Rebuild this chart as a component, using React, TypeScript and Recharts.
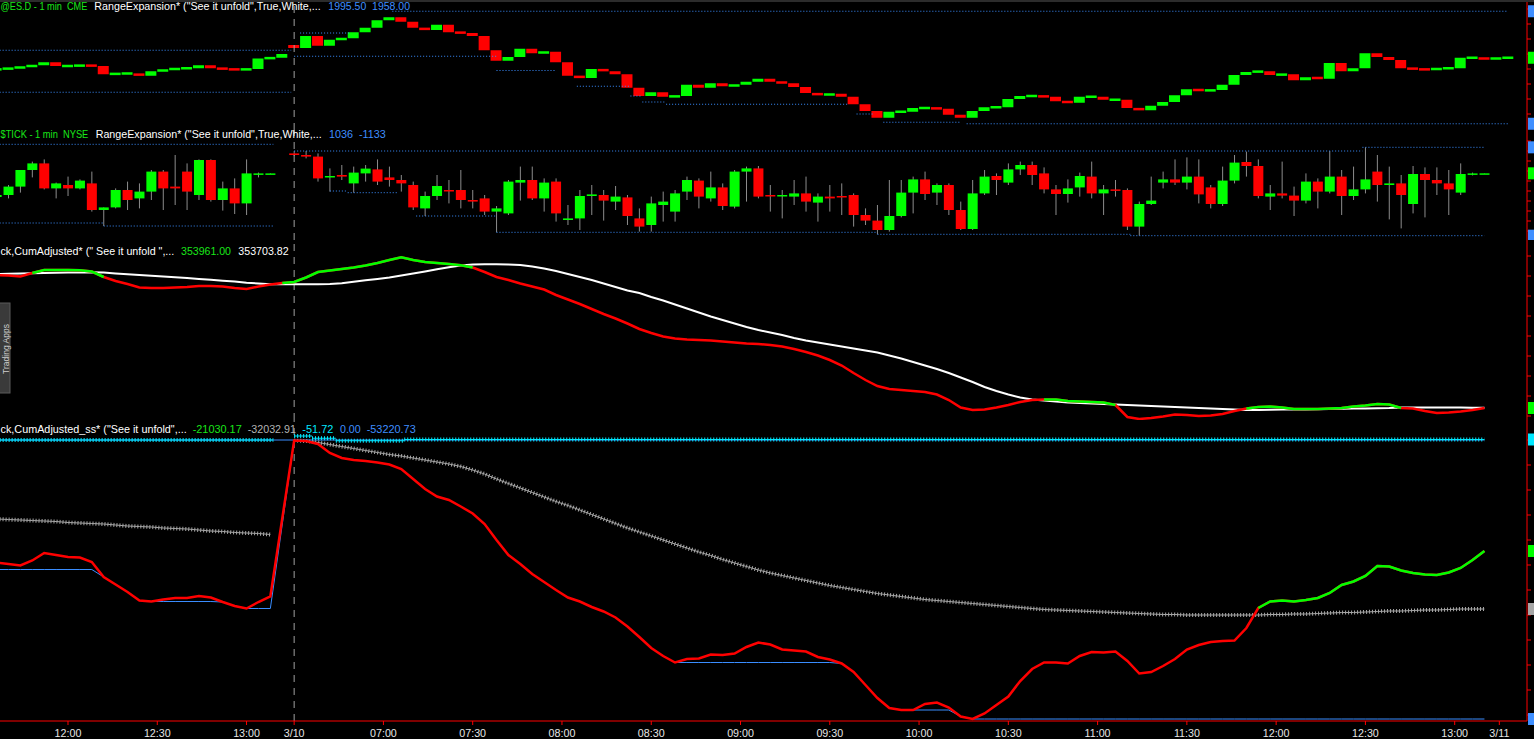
import React from 'react';
import { ComposedChart, Bar, Line, XAxis, YAxis, ReferenceLine, ReferenceDot } from 'recharts';

const FONT = '"Liberation Sans", Arial, Helvetica, sans-serif';
const GREEN = '#00ff00';
const RED = '#ff0000';
const BLUE = '#3a8dff';
const CYAN = '#00e8ff';
const GREY = '#a6a6a6';
const WICK = '#8c8c8c';
const AXIS_RED = '#ff0000';
const TXT_GREEN = '#19e619';
const TXT_BLUE = '#3f8fff';

const WIDTH = 1534;
const AXIS_W = 7;
const X_DOMAIN: [number, number] = [-22.85, 490.3];
const SESSION_BREAK = 76;

// ---- bar index (1-minute units from 12:00 of 3/9), one bar per 4 minutes ----
const session1Index = [-24, -20, -16, -12, -8, -4, 0, 4, 8, 12, 16, 20, 24, 28, 32, 36, 40, 44, 48, 52, 56, 60, 64, 68, 72];
const session2Index = [76, 80, 84, 88, 92, 96, 100, 104, 108, 112, 116, 120, 124, 128, 132, 136, 140, 144, 148, 152,
  156, 160, 164, 168, 172, 176, 180, 184, 188, 192, 196, 200, 204, 208, 212, 216, 220, 224, 228, 232,
  236, 240, 244, 248, 252, 256, 260, 264, 268, 272, 276, 280, 284, 288, 292, 296, 300, 304, 308, 312,
  316, 320, 324, 328, 332, 336, 340, 344, 348, 352, 356, 360, 364, 368, 372, 376, 380, 384, 388, 392,
  396, 400, 404, 408, 412, 416, 420, 424, 428, 432, 436, 440, 444, 448, 452, 456, 460, 464, 468, 472, 476, 480, 484];

// ---- x axis ----
const tickValues = [0, 30, 60, 76, 106, 136, 166, 196, 226, 256, 286, 316, 346, 376, 406, 436, 466, 481];
const tickLabels = ['12:00', '12:30', '13:00', '3/10', '07:00', '07:30', '08:00', '08:30', '09:00', '09:30', '10:00', '10:30', '11:00', '11:30', '12:00', '12:30', '13:00', '3/11'];

// ---- @ES.D closes ----
const esSessionOpen = [1974.75, 1983.0];
const esCloseDay1 = [1975.0, 1975.25, 1975.75, 1976.25, 1977.25, 1976.0, 1976.0, 1976.25, 1976.0, 1973.25, 1973.5, 1973.5, 1972.75,
  1974.25, 1974.75, 1975.25, 1975.25, 1976.25, 1975.25, 1975.0, 1974.75, 1975.0, 1978.5, 1978.75, 1980.0];
const esCloseDay2 = [
  1982.0, 1986.0, 1982.75, 1984.75, 1985.25, 1987.25, 1988.75, 1991.25, 1992.25, 1990.75,
  1988.75, 1988.0, 1989.75, 1987.25, 1987.0, 1986.0, 1981.25, 1977.75, 1979.0, 1981.75,
  1980.25, 1980.75, 1977.25, 1972.75, 1972.0, 1975.0, 1974.25, 1973.25, 1968.75, 1966.0,
  1967.25, 1965.75, 1966.0, 1969.75, 1968.75, 1970.25, 1969.25, 1969.75, 1970.75, 1971.75,
  1970.75, 1970.25, 1969.0, 1967.0, 1966.25, 1966.75, 1965.75, 1963.25, 1961.0, 1958.75,
  1960.75, 1960.75, 1962.0, 1962.0, 1961.75, 1959.75, 1958.75, 1961.0, 1962.25, 1962.25,
  1965.0, 1966.0, 1966.0, 1965.75, 1964.25, 1963.75, 1965.75, 1965.75, 1964.75, 1964.75,
  1962.0, 1961.25, 1962.75, 1964.0, 1966.25, 1968.25, 1967.75, 1968.0, 1969.75, 1973.0,
  1974.0, 1974.25, 1973.0, 1973.25, 1971.25, 1972.25, 1971.75, 1977.0, 1974.25, 1975.25,
  1980.25, 1979.0, 1978.0, 1975.25, 1975.0, 1974.75, 1975.25, 1975.25, 1978.75, 1978.75, 1978.25, 1978.75, 1978.75];
// [fromIndex, toIndex, level]
const esRangeHigh = [[-26, 75, 1981.25], [78, 95, 1987.0], [109, 484, 1994.25]];
const esRangeLow = [[-26, 75, 1967.25], [76, 144, 1979.25], [144, 164, 1974.5], [171, 189, 1969.25], [189, 193, 1966.0],
  [193, 201, 1964.0], [201, 262, 1963.25], [265, 271, 1960.0], [274, 300, 1957.25], [302, 484, 1956.75]];
const esAxisTicks = [1960, 1965, 1970, 1975, 1980, 1985, 1990, 1995];

// ---- $TICK bars [open, high, low, close] ----
const tickBarsDay1 = [
  [-150, 100, -200, -100],
  [-100, 150, -185, 110], [110, 525, -40, 525], [525, 735, 340, 690], [690, 790, 40, 65], [65, 210, -185, 190],
  [150, 360, -125, 65], [65, 290, 40, 260], [190, 485, -515, -475], [-475, -410, -875, -410], [-410, 65, -435, 25],
  [25, 235, -475, -225], [-185, 190, -435, -15], [-15, 525, -225, 485], [485, 525, -475, 65], [110, 900, -350, 65],
  [485, 690, -475, -15], [-100, 790, -225, 775], [775, 790, -265, -225], [-225, 235, -490, 65], [65, 315, -575, -310],
  [-310, 790, -600, 440], [440, 460, 340, 440], [440, 440, 425, 440]];
const tickBarsDay2 = [
  [940, 1000, 875, 900], [900, 1000, 815, 860], [860, 940, 235, 315], [360, 565, -15, 375], [400, 650, 275, 360],
  [190, 610, -42, 460], [440, 650, 235, 560], [540, 790, 150, 235], [340, 610, 110, 275], [275, 400, -15, 190],
  [150, 235, -475, -410], [-435, -15, -625, -125], [-125, 400, -225, 125], [25, 275, -310, 10], [25, 525, -435, -225],
  [-225, 25, -435, -265], [-185, -100, -600, -515], [-515, -375, -1033, -435], [-560, 275, -600, 235], [210, 610, -240, 275],
  [275, 610, -225, -185], [-185, 315, -515, 210], [235, 315, -765, -560], [-725, -350, -850, -685], [-685, 25, -975, -125],
  [-125, 150, -600, -85], [-100, 25, -740, -240], [-265, 125, -475, -140], [-160, -100, -850, -625], [-685, -435, -1015, -890],
  [-850, -140, -1015, -310], [-350, -15, -765, -265], [-515, 25, -765, -60], [-15, 360, -225, 275], [260, 315, -435, -140],
  [-185, 485, -265, 90], [90, 190, -475, -375], [-390, 525, -435, 485], [485, 610, -265, 565], [565, 625, -185, -140],
  [-100, 150, -515, -125], [-125, 25, -685, -100], [-140, 275, -350, -60], [-60, 360, -515, -265], [-290, -60, -765, -140],
  [-140, 150, -515, -185], [-125, 190, -600, -140], [-100, -60, -890, -600], [-600, -435, -850, -740], [-740, -350, -1083, -975],
  [-975, 275, -1015, -625], [-625, 275, -660, -40], [-40, 360, -560, 290], [290, 485, -225, -75], [-40, 190, -350, 150],
  [150, 190, -600, -475], [-475, -265, -975, -950], [-950, 275, -975, -60], [-60, 525, -100, 360], [375, 440, -100, 275],
  [210, 690, 150, 540], [540, 735, 400, 650], [650, 735, 150, 400], [440, 590, -60, 40], [40, 150, -600, -75],
  [-75, 290, -290, 65], [90, 460, -140, 375], [360, 735, -185, -60], [-60, 150, -600, 40], [40, 275, -140, 10],
  [25, 65, -975, -890], [-890, -265, -1117, -325], [-325, 360, -350, -240], [210, 485, 65, 290], [290, 790, 150, 210],
  [210, 840, 40, 360], [360, 790, -310, -85], [90, 150, -435, -325], [-325, 610, -375, 260], [260, 900, 190, 710],
  [725, 985, 360, 625], [625, 790, -185, -125], [-140, 150, -475, -60], [-60, 735, -185, -115], [-115, 110, -625, -240],
  [-240, 440, -310, 235], [235, 315, -435, -15], [-15, 1000, -60, 360], [360, 525, -600, -125], [-125, 610, -225, 40],
  [40, 1092, -60, 290], [485, 900, -265, 150], [150, 610, -710, 190], [190, 400, -935, -100], [-325, 625, -560, 425],
  [425, 590, -660, 275], [275, 590, -100, 190], [190, 525, -600, 40], [-40, 690, -100, 425], [425, 460, 390, 440],
  [440, 445, 435, 442]];
const tickRangeHigh = [[-26, 69, 1167], [76, 435, 1000], [435, 476, 1092]];
const tickRangeLow = [[-26, 12, -800], [12, 69, -875], [88, 94, 0], [94, 111, -42], [117, 144, -625],
  [144, 272, -1033], [272, 357, -1083], [357, 476, -1117]];
const tickAxisTicks = [-1000, -750, -500, -250, 0, 250, 500, 750, 1000, 1250];

// ---- CumAdjusted (thousands) and its average ----
const cumDay1 = [420.5, 420.25, 419.75, 421.5, 423, 423, 423, 422.85, 422.25, 419.5, 417.5, 416, 414.25, 414, 414, 414.25, 414.5,
  415, 415, 414.75, 414, 413.5, 414.75, 415.75, 416.5];
const cumDay2 = [
  417, 419.25, 422, 422.75, 423.5, 424.25, 425.25, 426.5, 428, 429.35,
  428, 427, 426.5, 426, 425.35, 424.25, 422, 419.5, 418, 416.25,
  414.75, 413.25, 410.5, 408.25, 406, 403.5, 401, 398.75, 396.25, 393.5,
  391.5, 389.75, 388.75, 388.25, 388, 387.75, 387.25, 386.75, 386.25, 386,
  385.5, 384.75, 383.5, 382, 380.25, 378, 375.25, 371.5, 368, 365,
  363.5, 363, 362.5, 362, 360.75, 358, 354.25, 353, 353.25, 354.25,
  355.5, 357, 358, 358.25, 358.25, 357.5, 357.25, 357, 356.75, 355.5,
  349.5, 348.5, 349, 349.75, 350.75, 350.5, 350, 350.25, 351, 352.5,
  353.75, 354.5, 354.75, 354.25, 353.5, 353.5, 353.5, 353.75, 354, 354.75,
  355.25, 356, 355.75, 354, 353.75, 352.5, 351.5, 351.75, 352.25, 353, 354];
const cumAvgDay1 = [421.0, 421.1, 421.25, 421.4, 421.5, 421.65, 421.75, 421.8, 421.85, 421.7, 421.3, 420.9, 420.5, 420.1, 419.7,
  419.4, 419, 418.5, 418.1, 417.65, 417.25, 416.65, 416.25, 415.9, 415.85];
const cumAvgDay2 = [
  415.85, 415.85, 415.85, 416, 416.35, 417.1, 417.85, 418.5, 419.25, 420.25,
  421.25, 422.25, 423.35, 424.35, 425.25, 425.75, 425.85, 425.9, 425.75, 425.5,
  424.75, 423.75, 422.5, 421, 419.5, 418, 416.25, 414.5, 412.75, 411.5,
  409.5, 407.75, 405.75, 403.75, 401.75, 399.75, 398, 396.25, 394.5, 393,
  391.75, 390.5, 389, 387.75, 386.75, 385.75, 384.75, 383.75, 382.75, 381.75,
  380.25, 378.75, 377, 375.25, 373.5, 371.5, 369.25, 367, 364.5, 362.5,
  360.75, 359.25, 358.25, 357.75, 357.25, 356.75, 356.5, 356.25, 356, 355.75,
  355.5, 355.25, 355, 354.75, 354.5, 354.25, 354, 353.75, 353.5, 353.25,
  353, 353, 353.1, 353.2, 353.25, 353.3, 353.4, 353.5, 353.6, 353.7,
  353.75, 353.9, 354, 354.25, 354.25, 354.25, 354.25, 354.2, 354.2, 354.15, 354.1];
const cumAxisTicks = [350, 360, 370, 380, 390, 400, 410, 420, 430];

// ---- CumAdjusted_ss (thousands) and its average ----
const ssDay1 = [-24.5, -24.8, -25.1, -24.1, -22.6, -23.0, -23.4, -23.5, -24.4, -27.4, -28.9, -30.4, -32.1, -32.3, -31.9, -31.6,
  -31.6, -31.2, -31.5, -32.4, -33.2, -33.7, -32.4, -31.3];
const ssDay2 = [
  -0.1, -0.2, -0.8, -2.6, -3.6, -4.0, -4.2, -4.5, -4.9, -5.8,
  -7.8, -9.8, -11.3, -12.0, -13.3, -14.7, -16.8, -20.0, -23.0, -24.8,
  -26.8, -28.4, -30.0, -31.5, -32.3, -33.4, -34.3, -35.5, -37.3, -39.4,
  -41.6, -43.2, -44.5, -43.8, -43.7, -42.9, -43.0, -42.7, -41.4, -40.5,
  -40.9, -41.9, -42.1, -42.3, -43.4, -43.9, -44.7, -46.4, -49.0, -51.6,
  -53.6, -54.0, -54.0, -52.8, -52.5, -53.5, -55.3, -55.8, -54.7, -53.0,
  -51.3, -48.2, -45.8, -44.5, -44.5, -44.7, -43.2, -42.4, -42.5, -42.3,
  -44.2, -46.7, -46.4, -45.2, -43.8, -41.9, -41.0, -40.4, -40.2, -40.1,
  -37.6, -33.6, -32.3, -32.1, -32.3, -32.0, -31.6, -30.6, -29.0, -28.3,
  -27.2, -25.2, -25.3, -26.1, -26.6, -26.9, -27.0, -26.5, -25.6, -24.0, -22.2];
const ssAvgDay1 = [-15.8, -15.9, -16.0, -16.1, -16.2, -16.3, -16.5, -16.6, -16.7, -16.8, -17.0, -17.2, -17.3, -17.4, -17.6, -17.7,
  -17.8, -18.0, -18.2, -18.3, -18.5, -18.6, -18.7, -18.9];
const ssAvgDay2 = [
  -0.1, -0.2, -0.5, -0.9, -1.3, -1.7, -2.1, -2.5, -2.9, -3.2,
  -3.6, -4.0, -4.4, -4.8, -5.3, -6.0, -6.8, -7.8, -8.7, -9.6,
  -10.5, -11.4, -12.3, -13.1, -14.0, -14.9, -15.8, -16.7, -17.6, -18.4,
  -19.2, -20.0, -20.8, -21.6, -22.4, -23.1, -23.9, -24.6, -25.3, -26.0,
  -26.6, -27.1, -27.6, -28.1, -28.6, -29.1, -29.5, -29.9, -30.3, -30.7,
  -31.0, -31.3, -31.6, -31.9, -32.1, -32.3, -32.5, -32.7, -32.9, -33.1,
  -33.3, -33.5, -33.7, -33.9, -34.0, -34.1, -34.2, -34.3, -34.4, -34.5,
  -34.6, -34.7, -34.8, -34.9, -34.9, -35.0, -35.0, -35.0, -35.0, -35.0,
  -35.0, -35.0, -34.9, -34.9, -34.8, -34.8, -34.7, -34.6, -34.5, -34.5,
  -34.4, -34.3, -34.2, -34.2, -34.1, -34.0, -34.0, -33.9, -33.8, -33.8, -33.8];
const ssLowSeed = [-25.9, 0];
const ssHighSeed = [0, 0];
const ssCyan = [[-26, 69, 0], [76, 82, 0.8], [82, 90, 0.35], [90, 113, -0.15], [113, 476, 0.1]];
const ssAxisTicks = [-55, -50, -45, -40, -35, -30, -25, -20, -15, -10, -5, 0];

// ---- header texts ----
const headers = [
  { y: 9.5, parts: [
    { x: 0.5, w: 86.8, t: '@ES.D - 1 min  CME', c: TXT_GREEN },
    { x: 94.3, w: 226.4, t: 'RangeExpansion* ("See it unfold",True,White,...', c: '#ffffff' },
    { x: 328.3, w: 81.7, t: '1995.50  1958.00', c: TXT_BLUE }] },
  { y: 137.7, parts: [
    { x: 0.5, w: 87.8, t: '$TICK - 1 min  NYSE', c: TXT_GREEN },
    { x: 95.7, w: 226, t: 'RangeExpansion* ("See it unfold",True,White,...', c: '#ffffff' },
    { x: 329, w: 56.7, t: '1036  -1133', c: TXT_BLUE }] },
  { y: 255, parts: [
    { x: 0.5, w: 173.8, t: 'ck,CumAdjusted* (" See it unfold ",...', c: '#ffffff' },
    { x: 181, w: 50, t: '353961.00', c: TXT_GREEN },
    { x: 238.3, w: 50.3, t: '353703.82', c: '#ffffff' }] },
  { y: 432.5, parts: [
    { x: 0.5, w: 186.2, t: 'ck,CumAdjusted_ss* ("See it unfold",...', c: '#ffffff' },
    { x: 192.7, w: 49, t: '-21030.17', c: TXT_GREEN },
    { x: 247.7, w: 48.3, t: '-32032.91', c: '#b4b4b4' },
    { x: 302.3, w: 31, t: '-51.72', c: CYAN },
    { x: 340, w: 20.7, t: '0.00', c: TXT_BLUE },
    { x: 366.7, w: 49, t: '-53220.73', c: TXT_BLUE }] },
];

// ---------------- data assembly ----------------
type Row = { i: number; s: number; k: number };
const rows: Row[] = [
  ...session1Index.map((i, k) => ({ i, s: 0, k })),
  ...session2Index.map((i, k) => ({ i, s: 1, k })),
];
function pick(pair: any[][], r: Row): any {
  const v = pair[r.s][r.k];
  return v === undefined ? null : v;
}

const esData = rows.map((r) => {
  const c = pick([esCloseDay1, esCloseDay2], r);
  const o = r.k === 0 ? esSessionOpen[r.s] : pick([esCloseDay1, esCloseDay2], { ...r, k: r.k - 1 });
  return { i: r.i, o, c };
});

const tickData = rows.map((r) => {
  const b = pick([tickBarsDay1, tickBarsDay2], r);
  return b ? { i: r.i, o: b[0], h: b[1], l: b[2], c: b[3] } : { i: r.i, o: null, h: null, l: null, c: null };
});

function greenPart(vals: (number | null)[], ref: (number | null)[]) {
  const above = vals.map((v, j) => v != null && ref[j] != null && v > (ref[j] as number));
  return vals.map((v, j) => (v != null && (above[j] || (j > 0 && above[j - 1]))) ? v : null);
}

const cumVals = rows.map((r) => pick([cumDay1, cumDay2], r));
const cumAvgVals = rows.map((r) => pick([cumAvgDay1, cumAvgDay2], r));
const cumUp = greenPart(cumVals, cumAvgVals);
const cumData = rows.map((r, j) => ({ i: r.i, cum: cumVals[j], avg: cumAvgVals[j], up: cumUp[j] }));

const ssVals = rows.map((r) => pick([ssDay1, ssDay2], r));
const ssAvgVals = rows.map((r) => pick([ssAvgDay1, ssAvgDay2], r));
const ssUp = greenPart(ssVals, ssAvgVals);
const ssLow: (number | null)[] = [];
const ssHigh: (number | null)[] = [];
{
  let lo = 0; let hi = 0;
  rows.forEach((r, j) => {
    if (r.k === 0) { lo = ssLowSeed[r.s]; hi = ssHighSeed[r.s]; }
    const v = ssVals[j];
    if (v == null) { ssLow.push(null); ssHigh.push(null); return; }
    lo = Math.min(lo, v); hi = Math.max(hi, v);
    ssLow.push(lo); ssHigh.push(hi);
  });
}
const ssData = rows.map((r, j) => ({
  i: r.i, ss: ssVals[j], up: ssUp[j], avg: ssAvgVals[j], avgHatch: ssAvgVals[j], low: ssLow[j], high: ssHigh[j],
}));

const lastOf = (arr: (number | null)[]) => { for (let j = arr.length - 1; j >= 0; j--) if (arr[j] != null) return arr[j] as number; return 0; };

// ---------------- shapes ----------------
const noTick = () => <g />;

const EsCandle = (props: any) => {
  const { x, y, width, height, payload } = props;
  if (!payload || payload.c == null) return <g />;
  const top = Math.min(y, y + height);
  const h = Math.abs(height);
  const hh = Math.max(h, 2.5);
  return <rect x={x} y={top + h / 2 - hh / 2} width={width} height={hh} fill={payload.c >= payload.o ? GREEN : RED} />;
};

const TickCandle = (props: any) => {
  const { x, y, width, height, payload } = props;
  if (!payload || payload.h == null) return <g />;
  const { o, h, l, c } = payload;
  const top = Math.min(y, y + height);
  const px = Math.abs(height);
  const span = h - l;
  const py = (v: number) => (span === 0 ? top : top + ((h - v) / span) * px);
  const b0 = py(Math.max(o, c));
  const b1 = py(Math.min(o, c));
  const cx = x + width / 2;
  return (
    <g>
      <line x1={cx} x2={cx} y1={top} y2={top + px} stroke={WICK} strokeWidth={1} />
      <rect x={x} y={b0} width={width} height={Math.max(b1 - b0, 1.5)} fill={c >= o ? GREEN : RED} />
    </g>
  );
};

const marker = (value: number, color: string, key: string) => (
  <ReferenceDot key={key} x={X_DOMAIN[1]} y={value} r={0} ifOverflow="visible"
    shape={(p: any) => <rect x={p.cx + 1} y={p.cy - 6} width={8} height={12} fill={color} />} />
);

const segments = (list: number[][], color: string, key: string, dash = '1 2', width = 1) =>
  list.map((s, n) => (
    <ReferenceLine key={key + n} segment={[{ x: s[0], y: s[2] }, { x: s[1], y: s[2] }]} stroke={color}
      strokeWidth={width} strokeDasharray={dash} ifOverflow="hidden" />
  ));

const rightAxis = (domain: [number, number], ticks: number[]) => (
  <YAxis orientation="right" width={AXIS_W} domain={domain} allowDataOverflow ticks={ticks} interval={0}
    axisLine={{ stroke: AXIS_RED }} tickLine={{ stroke: AXIS_RED }} tickSize={4} tick={noTick} />
);

const hiddenX = <XAxis type="number" dataKey="i" domain={X_DOMAIN} allowDataOverflow hide />;
const breakLine = <ReferenceLine x={SESSION_BREAK} stroke="#a0a0a0" strokeDasharray="7 6" />;
const M = { top: 0, right: 0, bottom: 0, left: 0 };

export default function App() {
  return (
    <div style={{ position: 'absolute', left: 0, top: 0, width: WIDTH, height: 739, background: '#000', overflow: 'hidden', fontFamily: FONT }}>
      {/* Panel 1: @ES.D */}
      <div style={{ position: 'absolute', left: 0, top: 0 }}>
        <ComposedChart width={WIDTH} height={130} data={esData} margin={M}>
          {hiddenX}
          {rightAxis([1998 - 130 / 3, 1998], esAxisTicks)}
          {breakLine}
          {segments(esRangeHigh, BLUE, 'esh')}
          {segments(esRangeLow, BLUE, 'esl')}
          <Bar dataKey={(d: any) => (d.c == null ? null : [Math.min(d.o, d.c), Math.max(d.o, d.c)])}
            shape={EsCandle} barSize={11} isAnimationActive={false} />
          {marker(esRangeHigh[esRangeHigh.length - 1][2], TXT_BLUE, 'm1')}
          {marker(lastOf(esData.map((d) => d.c)), GREEN, 'm2')}
          {marker(esRangeLow[esRangeLow.length - 1][2], TXT_BLUE, 'm3')}
        </ComposedChart>
      </div>

      {/* Panel 2: $TICK */}
      <div style={{ position: 'absolute', left: 0, top: 130 }}>
        <ComposedChart width={WIDTH} height={110} data={tickData} margin={M}>
          {hiddenX}
          {rightAxis([-1225, 1525], tickAxisTicks)}
          {breakLine}
          {segments(tickRangeHigh, BLUE, 'th')}
          {segments(tickRangeLow, BLUE, 'tl')}
          <Bar dataKey={(d: any) => (d.h == null ? null : [d.l, d.h])} shape={TickCandle} barSize={10} isAnimationActive={false} />
          {marker(tickRangeHigh[tickRangeHigh.length - 1][2], TXT_BLUE, 'm4')}
          {marker(lastOf(tickData.map((d) => d.c)), GREEN, 'm5')}
          {marker(tickRangeLow[tickRangeLow.length - 1][2], TXT_BLUE, 'm6')}
        </ComposedChart>
      </div>

      {/* Panel 3: CumAdjusted */}
      <div style={{ position: 'absolute', left: 0, top: 240 }}>
        <ComposedChart width={WIDTH} height={180} data={cumData} margin={M}>
          {hiddenX}
          {rightAxis([348, 438], cumAxisTicks)}
          {breakLine}
          <Line dataKey="avg" stroke="#ffffff" strokeWidth={2} dot={false} isAnimationActive={false} connectNulls />
          <Line dataKey="cum" stroke={RED} strokeWidth={2.5} dot={false} isAnimationActive={false} connectNulls />
          <Line dataKey="up" stroke={GREEN} strokeWidth={2.5} dot={false} isAnimationActive={false} />
          {marker(lastOf(cumVals), GREEN, 'm7')}
        </ComposedChart>
      </div>

      {/* Panel 4: CumAdjusted_ss */}
      <div style={{ position: 'absolute', left: 0, top: 420 }}>
        <ComposedChart width={WIDTH} height={319} data={ssData} margin={M}>
          <XAxis type="number" dataKey="i" domain={X_DOMAIN} allowDataOverflow height={18}
            ticks={tickValues} interval={0} tickFormatter={(v: number) => tickLabels[tickValues.indexOf(v)] ?? ''}
            axisLine={{ stroke: AXIS_RED }} tickLine={{ stroke: AXIS_RED }} tickSize={4} tickMargin={4}
            tick={{ fill: '#e6e6e6', fontSize: 10.7, fontFamily: FONT }} />
          {rightAxis([-56.2, 4], ssAxisTicks)}
          {breakLine}
          <Line dataKey="high" stroke={BLUE} strokeWidth={1} dot={false} isAnimationActive={false} connectNulls />
          <Line dataKey="low" stroke={BLUE} strokeWidth={1} dot={false} isAnimationActive={false} connectNulls />
          <Line dataKey="avg" stroke={GREY} strokeWidth={1} dot={false} isAnimationActive={false} />
          <Line dataKey="avgHatch" stroke={GREY} strokeWidth={4} strokeDasharray="1 2" dot={false} isAnimationActive={false} />
          {segments(ssCyan, CYAN, 'cy', '0', 1)}
          {segments(ssCyan, CYAN, 'cyh', '1 2', 4)}
          <Line dataKey="ss" stroke={RED} strokeWidth={2.5} dot={false} isAnimationActive={false} connectNulls />
          <Line dataKey="up" stroke={GREEN} strokeWidth={2.5} dot={false} isAnimationActive={false} />
          {marker(ssCyan[ssCyan.length - 1][2], CYAN, 'm8')}
          {marker(lastOf(ssVals), GREEN, 'm9')}
          {marker(lastOf(ssAvgVals), GREY, 'm10')}
          {marker(lastOf(ssLow), TXT_BLUE, 'm11')}
        </ComposedChart>
      </div>

      {/* overlay: headers, frame, side tab */}
      <svg width={WIDTH} height={739} style={{ position: 'absolute', left: 0, top: 0, pointerEvents: 'none' }}>
        <rect x={0} y={0} width={WIDTH} height={2} fill="#2c2c2c" />
        {headers.map((row, n) => (
          <g key={n}>
            {row.parts.map((p, m) => (
              <text key={m} x={p.x} y={row.y} fill={p.c} fontSize={10.7} fontFamily={FONT}
                textLength={p.w} lengthAdjust="spacingAndGlyphs" style={{ whiteSpace: 'pre' }}>{p.t}</text>
            ))}
          </g>
        ))}
        <rect x={-2} y={303} width={12} height={90} fill="#3a3a3a" stroke="#5a5a5a" strokeWidth={1} />
        <text x={8.6} y={349} fill="#cfcfcf" fontSize={8.5} fontFamily={FONT} textAnchor="middle"
          transform="rotate(-90 8.6 349)">Trading Apps</text>
      </svg>
    </div>
  );
}
